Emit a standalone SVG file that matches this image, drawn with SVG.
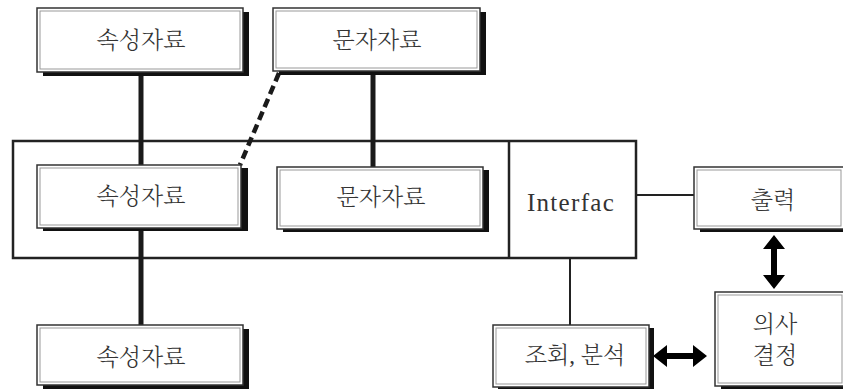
<svg xmlns="http://www.w3.org/2000/svg" width="843" height="389" viewBox="0 0 843 389">
<style>
.sh{fill:#111;}
.bx{fill:#fff;stroke:#333;stroke-width:1.5;}
.in{fill:none;stroke:#999;stroke-width:1;}
.kt{font-family:"Liberation Serif","Noto Serif CJK KR","Noto Sans CJK KR",serif;font-size:23px;font-weight:300;fill:#333;text-anchor:middle;dominant-baseline:central;}
.lt{font-family:"Liberation Serif",serif;font-size:25px;fill:#333;text-anchor:middle;dominant-baseline:central;letter-spacing:1.3px;}
.thick{stroke:#1a1a1a;stroke-width:5;fill:none;}
.thin{stroke:#222;stroke-width:2;fill:none;}
.dash{stroke:#1a1a1a;stroke-width:4.5;stroke-dasharray:9 5;fill:none;}
.arr{fill:#000;}
</style>
<rect x="0" y="0" width="843" height="389" fill="#fff"/>
<g id="container">
<rect x="13" y="141" width="623" height="117" fill="none" stroke="#222" stroke-width="2.5"/>
<line x1="509" y1="141" x2="509" y2="258" stroke="#222" stroke-width="2.5"/>
<text class="lt" x="571" y="202">Interfac</text>
</g>
<g id="connectors">
<line class="thick" x1="141" y1="75" x2="141" y2="165"/>
<line class="thick" x1="373" y1="75" x2="373" y2="167"/>
<line class="thick" x1="141" y1="230" x2="141" y2="325"/>
<line class="dash" x1="279" y1="73" x2="240" y2="165"/>
<line class="thin" x1="636" y1="195" x2="694" y2="195"/>
<line class="thin" x1="570" y1="258" x2="570" y2="325"/>
<path class="arr" d="M774,235 L785,249 L777,249 L777,275 L785,275 L774,289 L763,275 L771,275 L771,249 L763,249 Z"/>
<path class="arr" d="M653,356 L667,345 L667,353 L693,353 L693,345 L707,356 L693,367 L693,359 L667,359 L667,367 Z"/>
</g>
<g id="n1">
<rect class="sh" x="43" y="12" width="206" height="64"/>
<rect class="bx" x="37" y="8" width="206" height="64"/>
<rect class="in" x="40" y="11" width="200" height="58"/>
<text class="kt" x="141" y="40">속성자료</text>
</g>
<g id="n2">
<rect class="sh" x="279" y="12" width="207" height="63"/>
<rect class="bx" x="273" y="8" width="207" height="63"/>
<rect class="in" x="276" y="11" width="201" height="57"/>
<text class="kt" x="377" y="40">문자자료</text>
</g>
<g id="n3">
<rect class="sh" x="43" y="168" width="205" height="63"/>
<rect class="bx" x="37" y="165" width="204" height="63"/>
<rect class="in" x="40" y="168" width="198" height="57"/>
<text class="kt" x="141" y="196">속성자료</text>
</g>
<g id="n4">
<rect class="sh" x="283" y="170" width="206" height="62"/>
<rect class="bx" x="277" y="167" width="206" height="62"/>
<rect class="in" x="280" y="170" width="200" height="56"/>
<text class="kt" x="381" y="197">문자자료</text>
</g>
<g id="n5">
<rect class="sh" x="700" y="170" width="150" height="62"/>
<rect class="bx" x="694" y="167" width="150" height="62"/>
<rect class="in" x="697" y="170" width="144" height="56"/>
<text class="kt" x="773" y="200">출력</text>
</g>
<g id="n6">
<rect class="sh" x="721" y="296" width="130" height="94"/>
<rect class="bx" x="715" y="292" width="130" height="94"/>
<rect class="in" x="718" y="295" width="124" height="88"/>
<text class="kt" x="775" y="324">의사</text>
<text class="kt" x="775" y="355">결정</text>
</g>
<g id="n7">
<rect class="sh" x="498" y="328" width="156" height="62"/>
<rect class="bx" x="493" y="325" width="156" height="62"/>
<rect class="in" x="496" y="328" width="150" height="56"/>
<text class="kt" x="575" y="355">조회,  분석</text>
</g>
<g id="n8">
<rect class="sh" x="43" y="329" width="206" height="60"/>
<rect class="bx" x="37" y="325" width="206" height="60"/>
<rect class="in" x="40" y="328" width="200" height="54"/>
<text class="kt" x="141" y="357">속성자료</text>
</g>
</svg>
